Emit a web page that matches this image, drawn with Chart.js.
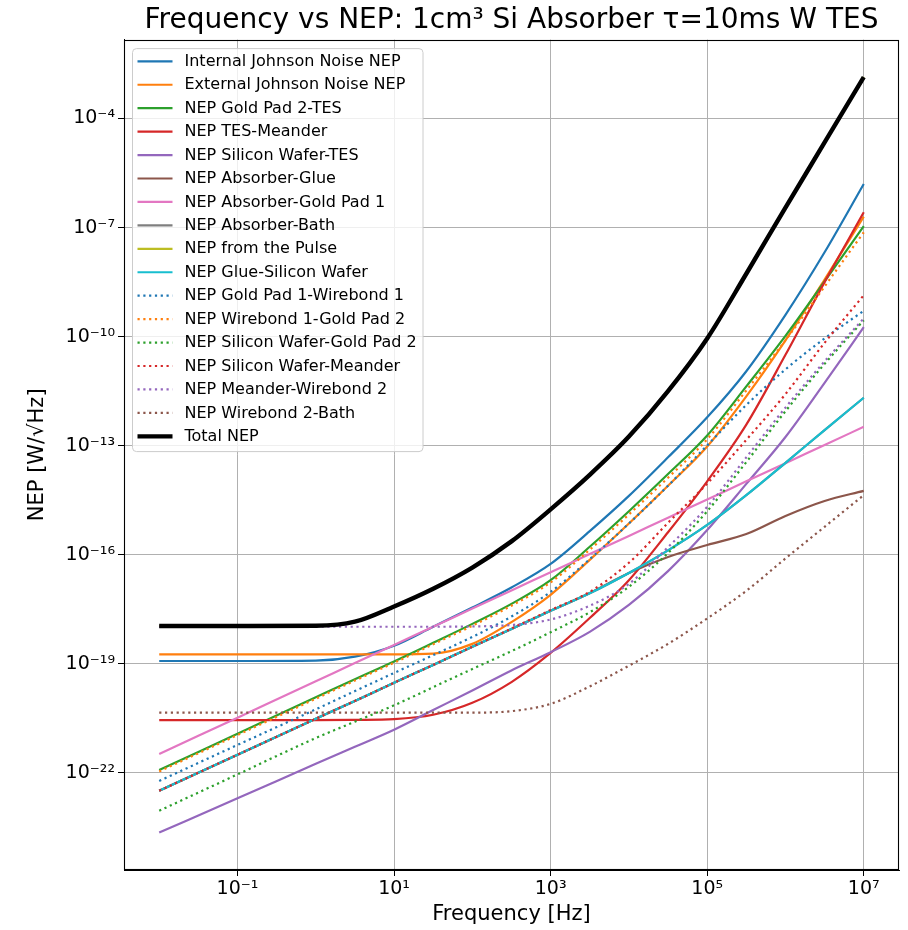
<!DOCTYPE html>
<html><head><meta charset="utf-8">
<script src="https://cdn.jsdelivr.net/npm/chart.js@4.4.0/dist/chart.umd.min.js"></script>
<style>html,body{margin:0;padding:0;background:#fff;} canvas{display:block;}</style>
</head><body>
<canvas id="c" width="908" height="930"></canvas>
<script>
// Frequency samples [Hz]
const frequencies = [1e-2, 1e-1, 1, 3.16, 10, 31.6, 100, 316, 1e3, 3.16e3, 1e4, 3.16e4, 1e5, 3.16e5, 1e6, 3.16e6, 1e7];

// NEP values [W/sqrt(Hz)]
const internalJohnson = [1.20e-19, 1.20e-19, 1.23e-19, 1.58e-19, 3.16e-19, 1.05e-18, 3.55e-18, 1.26e-17, 5.62e-17, 4.47e-16, 4.17e-15, 4.79e-14, 6.03e-13, 1.12e-11, 3.98e-10, 2.09e-8, 1.58e-6];
const externalJohnson = [1.82e-19, 1.82e-19, 1.82e-19, 1.82e-19, 1.82e-19, 1.91e-19, 3.55e-19, 1.41e-18, 7.94e-18, 7.24e-17, 7.24e-16, 7.94e-15, 9.55e-14, 2.29e-12, 7.94e-11, 3.72e-9, 2.00e-7];
const goldPad2TES = [1.20e-22, 1.20e-21, 1.20e-20, 3.80e-20, 1.17e-19, 3.80e-19, 1.26e-18, 4.47e-18, 2.00e-17, 1.66e-16, 1.58e-15, 1.66e-14, 1.91e-13, 4.27e-12, 1.05e-10, 3.31e-9, 1.10e-7];
const tesMeander = [2.82e-21, 2.82e-21, 2.82e-21, 2.88e-21, 3.02e-21, 3.98e-21, 8.51e-21, 3.16e-20, 2.00e-19, 1.82e-18, 2.00e-17, 4.17e-16, 1.05e-14, 3.80e-13, 3.16e-11, 3.16e-9, 2.63e-7];
const siliconWaferTES = [2.29e-24, 2.00e-23, 1.78e-22, 5.25e-22, 1.55e-21, 5.37e-21, 1.86e-20, 6.61e-20, 2.09e-19, 7.59e-19, 4.17e-18, 3.55e-17, 4.79e-16, 8.91e-15, 1.74e-13, 5.37e-12, 1.82e-10];
const absorberGlue = [3.24e-23, 3.16e-22, 3.09e-21, 9.55e-21, 3.02e-20, 9.33e-20, 2.95e-19, 9.12e-19, 2.88e-18, 8.91e-18, 3.16e-17, 8.71e-17, 1.86e-16, 3.72e-16, 1.17e-15, 3.02e-15, 5.75e-15];
const absorberGoldPad1 = [3.31e-22, 3.31e-21, 3.31e-20, 1.05e-19, 3.31e-19, 1.05e-18, 3.31e-18, 1.05e-17, 3.31e-17, 1.05e-16, 3.31e-16, 1.05e-15, 3.31e-15, 1.05e-14, 3.31e-14, 1.05e-13, 3.31e-13];
const absorberBath = [3.24e-23, 3.16e-22, 3.09e-21, 9.55e-21, 3.02e-20, 9.33e-20, 2.95e-19, 9.12e-19, 2.88e-18, 8.71e-18, 3.16e-17, 1.32e-16, 6.61e-16, 4.37e-15, 3.39e-14, 2.69e-13, 2.09e-12];
const fromPulse = [1.10e-18, 1.10e-18, 1.12e-18, 1.45e-18, 3.80e-18, 1.17e-17, 4.47e-17, 2.34e-16, 1.78e-15, 1.58e-14, 1.78e-13, 3.16e-12, 8.91e-11, 5.37e-9, 3.55e-7, 2.19e-5, 1.38e-3];
const glueSiliconWafer = [3.24e-23, 3.16e-22, 3.09e-21, 9.55e-21, 3.02e-20, 9.33e-20, 2.95e-19, 9.12e-19, 2.88e-18, 8.71e-18, 3.16e-17, 1.32e-16, 6.61e-16, 4.37e-15, 3.39e-14, 2.69e-13, 2.09e-12];
const goldPad1Wirebond1 = [6.03e-23, 5.89e-22, 5.62e-21, 1.78e-20, 5.62e-20, 1.74e-19, 5.50e-19, 2.00e-18, 9.55e-18, 7.59e-17, 7.24e-16, 7.94e-15, 1.02e-13, 1.32e-12, 1.26e-11, 8.91e-11, 5.13e-10];
const wirebond1GoldPad2 = [1.10e-22, 1.10e-21, 1.10e-20, 3.47e-20, 1.07e-19, 3.47e-19, 1.12e-18, 3.98e-18, 1.74e-17, 1.38e-16, 1.29e-15, 1.32e-14, 1.51e-13, 3.31e-12, 7.94e-11, 2.40e-9, 7.41e-8];
const siliconWaferGoldPad2 = [9.12e-24, 9.12e-23, 9.12e-22, 2.57e-21, 7.24e-21, 2.29e-20, 7.24e-20, 2.24e-19, 7.41e-19, 2.63e-18, 1.32e-17, 1.12e-16, 1.58e-15, 3.55e-14, 8.91e-13, 1.78e-11, 2.82e-10];
const siliconWaferMeander = [3.24e-23, 3.16e-22, 3.09e-21, 9.55e-21, 3.02e-20, 9.33e-20, 2.95e-19, 9.33e-19, 3.02e-18, 9.55e-18, 6.03e-17, 7.59e-16, 9.12e-15, 1.45e-13, 2.63e-12, 6.76e-11, 1.38e-9];
const meanderWirebond2 = [1.05e-18, 1.05e-18, 1.05e-18, 1.05e-18, 1.05e-18, 1.05e-18, 1.07e-18, 1.17e-18, 1.66e-18, 3.98e-18, 1.58e-17, 1.62e-16, 2.09e-15, 4.79e-14, 1.12e-12, 2.09e-11, 3.16e-10];
const wirebond2Bath = [4.57e-21, 4.57e-21, 4.57e-21, 4.57e-21, 4.57e-21, 4.57e-21, 4.57e-21, 5.01e-21, 7.94e-21, 2.40e-20, 8.91e-20, 3.55e-19, 1.78e-18, 1.02e-17, 7.94e-17, 5.89e-16, 4.37e-15];
const totalNEP = [1.10e-18, 1.10e-18, 1.12e-18, 1.45e-18, 3.80e-18, 1.17e-17, 4.47e-17, 2.34e-16, 1.78e-15, 1.58e-14, 1.78e-13, 3.16e-12, 8.91e-11, 5.37e-9, 3.55e-7, 2.19e-5, 1.38e-3];

// Tick positions and labels
const xTickValues = [1e-1, 1e1, 1e3, 1e5, 1e7];
const xTickLabels = ['10\u207B\u00B9', '10\u00B9', '10\u00B3', '10\u2075', '10\u2077'];
const yTickValues = [1e-22, 1e-19, 1e-16, 1e-13, 1e-10, 1e-7, 1e-4];
const yTickLabels = ['10\u207B\u00B2\u00B2', '10\u207B\u00B9\u2079', '10\u207B\u00B9\u2076', '10\u207B\u00B9\u00B3', '10\u207B\u00B9\u2070', '10\u207B\u2077', '10\u207B\u2074'];

const series = [
  {label: 'Internal Johnson Noise NEP', values: internalJohnson, color: '#1f77b4', dotted: false},
  {label: 'External Johnson Noise NEP', values: externalJohnson, color: '#ff7f0e', dotted: false},
  {label: 'NEP Gold Pad 2-TES', values: goldPad2TES, color: '#2ca02c', dotted: false},
  {label: 'NEP TES-Meander', values: tesMeander, color: '#d62728', dotted: false},
  {label: 'NEP Silicon Wafer-TES', values: siliconWaferTES, color: '#9467bd', dotted: false},
  {label: 'NEP Absorber-Glue', values: absorberGlue, color: '#8c564b', dotted: false},
  {label: 'NEP Absorber-Gold Pad 1', values: absorberGoldPad1, color: '#e377c2', dotted: false},
  {label: 'NEP Absorber-Bath', values: absorberBath, color: '#7f7f7f', dotted: false},
  {label: 'NEP from the Pulse', values: fromPulse, color: '#bcbd22', dotted: false},
  {label: 'NEP Glue-Silicon Wafer', values: glueSiliconWafer, color: '#17becf', dotted: false},
  {label: 'NEP Gold Pad 1-Wirebond 1', values: goldPad1Wirebond1, color: '#1f77b4', dotted: true},
  {label: 'NEP Wirebond 1-Gold Pad 2', values: wirebond1GoldPad2, color: '#ff7f0e', dotted: true},
  {label: 'NEP Silicon Wafer-Gold Pad 2', values: siliconWaferGoldPad2, color: '#2ca02c', dotted: true},
  {label: 'NEP Silicon Wafer-Meander', values: siliconWaferMeander, color: '#d62728', dotted: true},
  {label: 'NEP Meander-Wirebond 2', values: meanderWirebond2, color: '#9467bd', dotted: true},
  {label: 'NEP Wirebond 2-Bath', values: wirebond2Bath, color: '#8c564b', dotted: true},
  {label: 'Total NEP', values: totalNEP, color: '#000000', dotted: false, width: 4.4}
];

const LW = 2.2;
const DASH = [2.2, 3.6];

const datasets = series.map((s, i) => ({
  label: s.label,
  data: frequencies.map((f, j) => ({x: f, y: s.values[j]})),
  borderColor: s.color,
  backgroundColor: s.color,
  borderWidth: s.width || LW,
  borderDash: s.dotted ? DASH : [],
  borderCapStyle: 'butt',
  borderJoinStyle: 'round',
  pointRadius: 0,
  pointHoverRadius: 0,
  cubicInterpolationMode: 'monotone',
  fill: false,
  order: series.length - i
}));

const FONT = 'DejaVu Sans';

const framePlugin = {
  id: 'frameAndLegend',
  afterDraw(chart) {
    const ctx = chart.ctx;
    const a = chart.chartArea;
    ctx.save();
    ctx.strokeStyle = '#000';
    ctx.lineWidth = 1.1;
    ctx.strokeRect(Math.round(a.left) + 0.5, Math.round(a.top) + 0.5,
                   Math.round(a.right - a.left) - 1, Math.round(a.bottom - a.top) - 1);
    const x0 = a.left + 8.5, y0 = a.top + 9, w = 290.5, h = 403, r = 4;
    ctx.beginPath();
    ctx.moveTo(x0 + r, y0);
    ctx.lineTo(x0 + w - r, y0);
    ctx.arcTo(x0 + w, y0, x0 + w, y0 + r, r);
    ctx.lineTo(x0 + w, y0 + h - r);
    ctx.arcTo(x0 + w, y0 + h, x0 + w - r, y0 + h, r);
    ctx.lineTo(x0 + r, y0 + h);
    ctx.arcTo(x0, y0 + h, x0, y0 + h - r, r);
    ctx.lineTo(x0, y0 + r);
    ctx.arcTo(x0, y0, x0 + r, y0, r);
    ctx.closePath();
    ctx.fillStyle = 'rgba(255,255,255,0.8)';
    ctx.fill();
    ctx.strokeStyle = '#cccccc';
    ctx.lineWidth = 1;
    ctx.stroke();
    ctx.font = '16px "' + FONT + '"';
    ctx.textBaseline = 'middle';
    ctx.textAlign = 'left';
    series.forEach((s, i) => {
      const y = y0 + 12.7 + i * 23.44;
      ctx.beginPath();
      ctx.strokeStyle = s.color;
      ctx.lineWidth = s.width || LW;
      ctx.lineCap = 'butt';
      ctx.setLineDash(s.dotted ? DASH : []);
      ctx.moveTo(x0 + 5, y);
      ctx.lineTo(x0 + 40, y);
      ctx.stroke();
      ctx.setLineDash([]);
      ctx.fillStyle = '#000';
      ctx.fillText(s.label, x0 + 52, y + 0.5);
    });
    ctx.restore();
  }
};

new Chart(document.getElementById('c'), {
  type: 'line',
  data: {datasets},
  options: {
    responsive: false,
    animation: false,
    devicePixelRatio: 1,
    layout: {padding: {left: 0, right: 9, top: 0, bottom: 0}},
    plugins: {
      legend: {display: false},
      tooltip: {enabled: false},
      title: {
        display: true,
        text: 'Frequency vs NEP: 1cm\u00B3 Si Absorber \u03C4=10ms W TES',
        font: {family: FONT, size: 28, weight: 'normal'},
        color: '#000',
        padding: {top: 4, bottom: 2},
        fullSize: false
      }
    },
    scales: {
      x: {
        type: 'logarithmic',
        min: 3.55e-3,
        max: 2.82e7,
        bounds: 'data',
        afterBuildTicks: (s) => { s.ticks = xTickValues.map(v => ({value: v})); },
        afterFit: (s) => { s.height = 60; },
        ticks: {
          callback: (v, i) => xTickLabels[i],
          font: {family: FONT, size: 19},
          color: '#000',
          padding: 2,
          maxRotation: 0,
          autoSkip: false
        },
        grid: {color: '#b0b0b0', lineWidth: 1, tickColor: '#000', tickLength: 6, tickWidth: 1},
        border: {display: true, color: '#000', width: 1},
        title: {display: true, text: 'Frequency [Hz]', font: {family: FONT, size: 21}, color: '#000', padding: {top: 0, bottom: 3}}
      },
      y: {
        type: 'logarithmic',
        min: 2.14e-25,
        max: 1.48e-2,
        bounds: 'data',
        afterBuildTicks: (s) => { s.ticks = yTickValues.map(v => ({value: v})); },
        afterFit: (s) => { s.width = 124; },
        ticks: {
          callback: (v, i) => yTickLabels[i],
          font: {family: FONT, size: 19},
          color: '#000',
          padding: 3,
          autoSkip: false
        },
        grid: {color: '#b0b0b0', lineWidth: 1, tickColor: '#000', tickLength: 6, tickWidth: 1},
        border: {display: true, color: '#000', width: 1},
        title: {display: true, text: 'NEP [W/\u221AHz]', font: {family: FONT, size: 21}, color: '#000', padding: {top: 25, bottom: 0}}
      }
    }
  },
  plugins: [framePlugin]
});
</script>
</body></html>
